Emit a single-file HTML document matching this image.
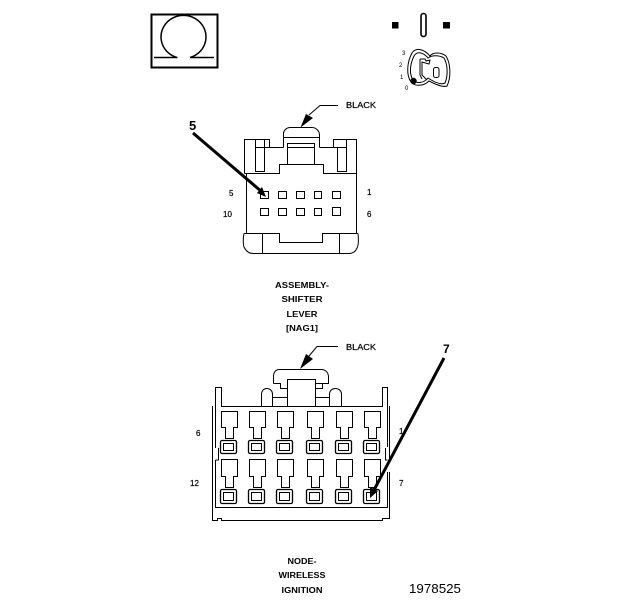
<!DOCTYPE html>
<html><head><meta charset="utf-8"><style>
html,body{margin:0;padding:0;background:#fff}
svg{display:block}
text{font-family:"Liberation Sans",sans-serif;fill:#000}
.b{font-weight:bold;font-size:8px}
.s{font-size:8px;stroke:#000;stroke-width:.2px}
</style></head><body>
<svg width="624" height="600" viewBox="0 0 624 600" xmlns="http://www.w3.org/2000/svg">
<defs>
<g id="c1" fill="none" stroke="#000">
<path d="M221.500 411.500H237.500V427.500H233.500V438.500H225.500V427.500H221.500Z"/>
<rect x="220.500" y="440.500" width="16" height="13" rx="1.500" stroke-width="1.300"/>
<rect x="223.500" y="443.500" width="10" height="7"/>
</g>
<g id="c2" fill="none" stroke="#000">
<path d="M221.500 459.500H237.500V476.500H233.500V487.500H225.500V476.500H221.500Z"/>
<rect x="220.500" y="489.500" width="16" height="14" rx="1.500" stroke-width="1.300"/>
<rect x="223.500" y="492.500" width="10" height="8"/>
</g>
</defs>

<!-- omega -->
<rect x="151.500" y="14.500" width="66" height="53" fill="none" stroke="#000" stroke-width="2"/>
<path d="M177 57.500A22.500 21.500 0 1 1 190 57.500M154 57.500H177.500M190 57.500H214" fill="none" stroke="#000" stroke-width="1.500"/>

<!-- key icon -->
<rect x="392" y="22" width="6.500" height="6.500"/>
<rect x="443" y="22" width="7" height="6.500"/>
<rect x="421" y="13.500" width="5" height="23" rx="2.500" fill="none" stroke="#000" stroke-width="1.600"/>
<g fill="none" stroke="#000" stroke-width="1">
<path d="M430 56C424 49 416 47 412 53C407 62 406 75 411 82C415 87 424 86 429 81C433 83 442 88 447 86C451 78 451 64 446 56C441 52 433 52 430 56Z"/>
<path d="M428 58C423 52 417 51 414 56C410 64 409 74 413 80C417 84 424 83 428 78C434 82 441 85 445 83C448 76 448 65 444 58C439 55 432 55 428 58Z"/>
<path d="M420 59H425L426 61L430 60L429 64L422 62V75L427 80M420 59V75L422 79"/>
<rect x="433.500" y="67.500" width="5.500" height="10" rx="2"/>
</g>
<circle cx="413.500" cy="81" r="3.200"/>
<text x="402" y="55" style="font-size:6px">3</text>
<text x="399" y="67" style="font-size:6px">2</text>
<text x="400" y="79" style="font-size:6px">1</text>
<text x="405" y="90" style="font-size:6px">0</text>

<!-- upper connector -->
<g fill="none" stroke="#000" shape-rendering="crispEdges">
<path d="M244.500 173.500V139.500H269.500V147.500H283.500M319.500 147.500H333.500V139.500H356.500V173.500M244.500 173.500H279.500V164.500H323.500V173.500H356.500"/>
<path d="M255.500 139.500V171.500H264.500V139.500M255.500 147.500H269.500M337.500 147.500V171.500H346.500V139.500M333.500 147.500H346.500"/>
<path d="M287.500 164.500V143.500H314.500V164.500M287.500 147.500H314.500M283.500 137.500H319.500"/>
<path d="M246.500 173.500V233.500M356.500 173.500V233.500"/>
<path d="M262.500 234V253M339.500 234V253"/>
<path d="M244 233.500H279.500V242.500H322.500V233.500H358"/>
<g>
<rect x="260.500" y="191.500" width="8" height="7"/><rect x="278.500" y="191.500" width="8" height="7"/><rect x="296.500" y="191.500" width="8" height="7"/><rect x="314.500" y="191.500" width="7" height="7"/><rect x="332.500" y="191.500" width="8" height="7"/>
<rect x="260.500" y="208.500" width="8" height="7"/><rect x="278.500" y="208.500" width="8" height="7"/><rect x="296.500" y="208.500" width="8" height="7"/><rect x="314.500" y="208.500" width="7" height="7"/><rect x="332.500" y="207.500" width="8" height="8"/>
</g>
</g>
<path d="M283.500 147.500V133C284 130 287 127.500 290 127.500H312C316 127.500 319.500 131 319.500 135V147.500" fill="none" stroke="#000"/>
<path d="M244 233.500C243 238 243 244 244 247C246 251 249 253.500 253 253.500H349C353 253.500 356 251 357.500 247C358.500 244 358.500 238 358 233.500" fill="none" stroke="#000"/>
<path d="M300.500 127.500L306 114L313 118Z" fill="#000"/>
<path d="M309 115L320 105.500H338" fill="none" stroke="#000"/>
<text class="s" x="346" y="108" textLength="30" lengthAdjust="spacingAndGlyphs">BLACK</text>
<path d="M193 133L262 192" stroke="#000" stroke-width="3" fill="none"/>
<path d="M266 197L257 193L262 187Z" fill="#000"/>
<text x="189" y="130" style="font-size:13px;font-weight:bold">5</text>
<text class="s" x="229" y="196">5</text>
<text class="s" x="367" y="195">1</text>
<text class="s" x="223" y="217">10</text>
<text class="s" x="367" y="217">6</text>

<text class="b" x="302" y="288" text-anchor="middle" textLength="54" lengthAdjust="spacingAndGlyphs">ASSEMBLY-</text>
<text class="b" x="302" y="302" text-anchor="middle" textLength="41" lengthAdjust="spacingAndGlyphs">SHIFTER</text>
<text class="b" x="302" y="317" text-anchor="middle" textLength="31" lengthAdjust="spacingAndGlyphs">LEVER</text>
<text class="b" x="302" y="331" text-anchor="middle" textLength="32" lengthAdjust="spacingAndGlyphs">[NAG1]</text>

<!-- lower connector -->
<g fill="none" stroke="#000" shape-rendering="crispEdges">
<path d="M215.500 406.500V387.500H221.500V406.500H382.500V387.500H387.500V406M221.500 406.500"/>
<path d="M212.500 406V521M215.500 406V448M215.500 460V507.500H387.500V472"/>
<path d="M212.500 520.500H217.500V518.500H221.500V520.500H382.500V518.500H389.500V472"/>
<path d="M387.500 406V447M389.500 406V460M385.500 448V460H387.500M218.500 448V460H215.500"/>
<path d="M287.500 406V379.500H315.500V406M273.500 383.500H280.500V388.500H287.500M315.500 388.500H322.500V383.500H315.500M272.500 397.500H287.500M315.500 397.500H329.500"/>
</g>
<path d="M273.500 383.500V375C274 372 276 369.500 279 369.500H322C326 370 328.500 373 328.500 377V383.500H322" fill="none" stroke="#000"/>
<path d="M261.500 406V394C262 390 264 388.500 267 388.500C270 388.500 272.500 391 272.500 394V406M329.500 406V394C330 390 332 388.500 335.500 388.500C339 388.500 341.500 391 341.500 394V406" fill="none" stroke="#000"/>
<use href="#c1"/><use href="#c1" x="28"/><use href="#c1" x="56"/><use href="#c1" x="86"/><use href="#c1" x="115"/><use href="#c1" x="143"/>
<use href="#c2"/><use href="#c2" x="28"/><use href="#c2" x="56"/><use href="#c2" x="86"/><use href="#c2" x="115"/><use href="#c2" x="143"/>
<path d="M300 369L306 354L313 359Z" fill="#000"/>
<path d="M309 356L317 346.500H338" fill="none" stroke="#000"/>
<text class="s" x="346" y="350" textLength="30" lengthAdjust="spacingAndGlyphs">BLACK</text>
<path d="M444 358L374 490" stroke="#000" stroke-width="3" fill="none"/>
<path d="M370 498L370 487L378 491Z" fill="#000"/>
<text x="443" y="353" style="font-size:12px;font-weight:bold">7</text>
<text class="s" x="196" y="436">6</text>
<text class="s" x="399" y="434">1</text>
<text class="s" x="190" y="486">12</text>
<text class="s" x="399" y="486">7</text>

<text class="b" x="302" y="564" text-anchor="middle" textLength="29" lengthAdjust="spacingAndGlyphs">NODE-</text>
<text class="b" x="302" y="578" text-anchor="middle" textLength="47" lengthAdjust="spacingAndGlyphs">WIRELESS</text>
<text class="b" x="302" y="593" text-anchor="middle" textLength="41" lengthAdjust="spacingAndGlyphs">IGNITION</text>
<text x="409" y="593" style="font-size:13px" textLength="52" lengthAdjust="spacingAndGlyphs">1978525</text>
</svg>
</body></html>
